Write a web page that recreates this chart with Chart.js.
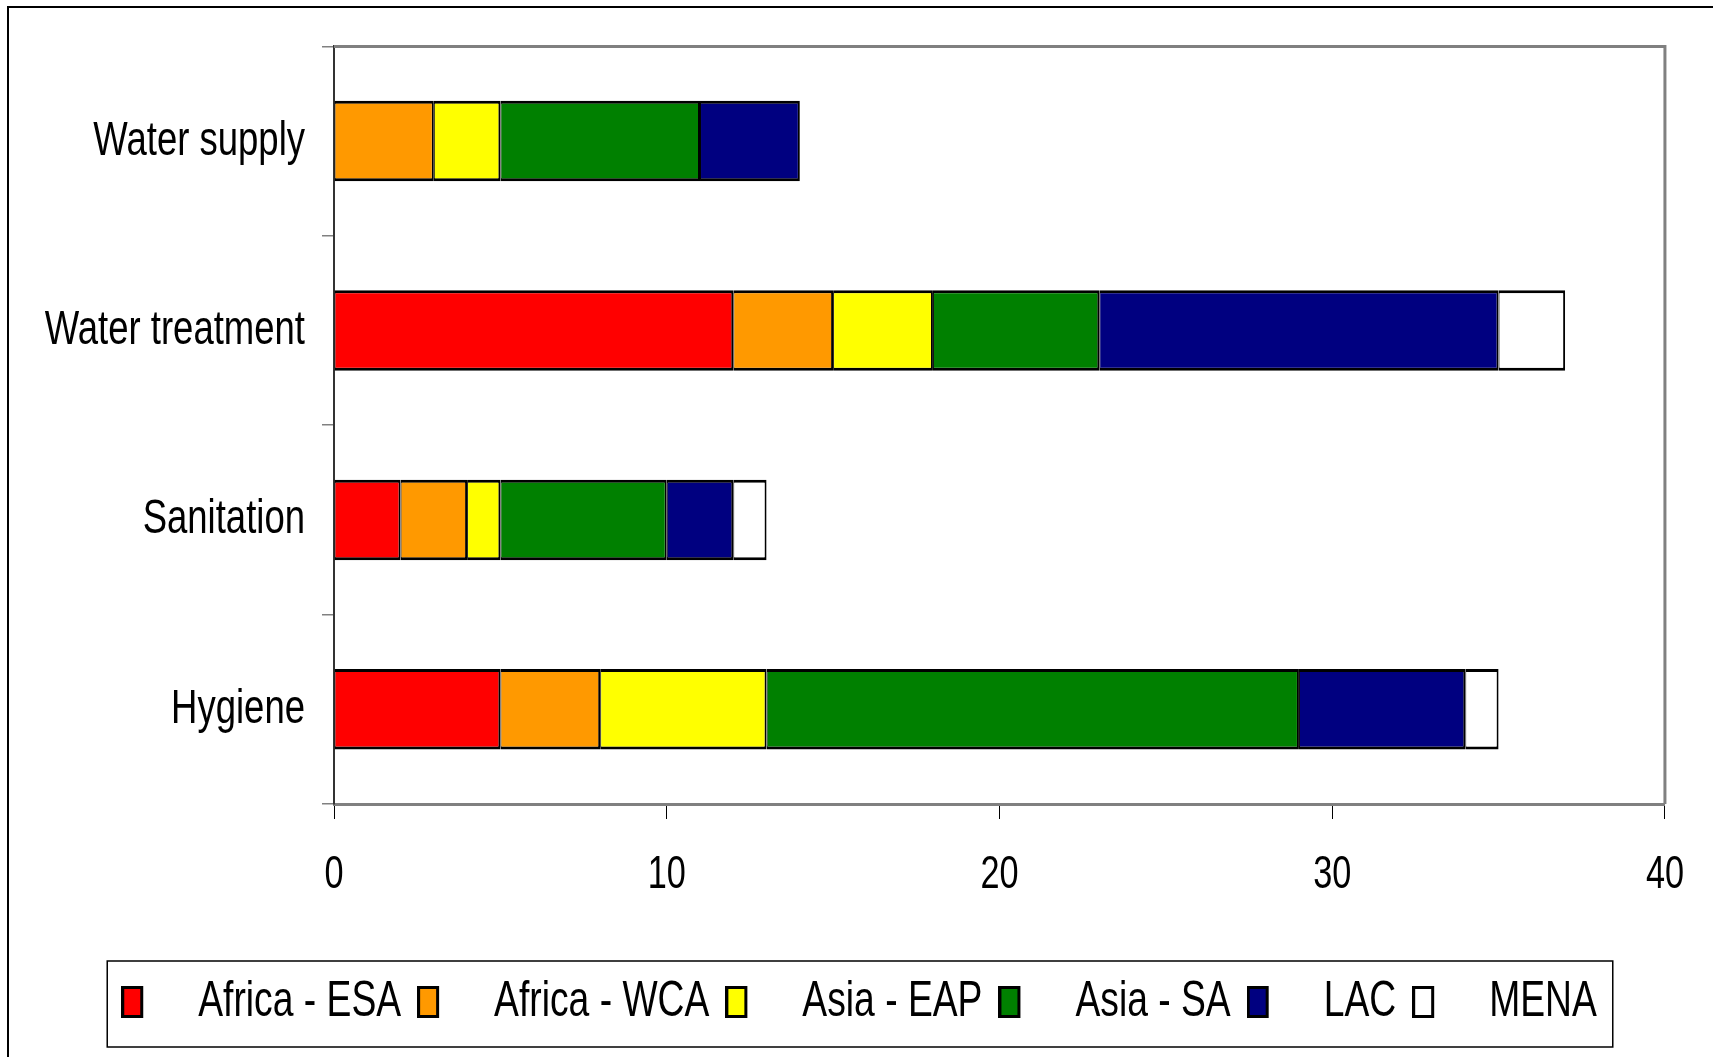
<!DOCTYPE html>
<html>
<head>
<meta charset="utf-8">
<script src="https://cdn.jsdelivr.net/npm/chart.js@4/dist/chart.umd.min.js"></script>
<style>
  html, body { margin: 0; padding: 0; background: #fff; }
  #wrap { width: 1713px; height: 1057px; position: relative; }
</style>
</head>
<body>
<div id="wrap"><canvas id="c" width="1713" height="1057"></canvas></div>
<script>
// Activities (top to bottom) and counts per region
const categories = ['Water supply', 'Water treatment', 'Sanitation', 'Hygiene'];
const regions = ['Africa - ESA', 'Africa - WCA', 'Asia - EAP', 'Asia - SA', 'LAC', 'MENA'];
const africaESA = [0, 12, 2, 5];
const africaWCA = [3, 3, 2, 3];
const asiaEAP   = [2, 3, 1, 5];
const asiaSA    = [6, 5, 5, 16];
const lac       = [3, 12, 2, 5];
const mena      = [0, 2, 1, 1];
const xTicks = [0, 10, 20, 30, 40];

const seriesValues = [africaESA, africaWCA, asiaEAP, asiaSA, lac, mena];
const seriesColors = ['#FF0000', '#FF9900', '#FFFF00', '#008000', '#000080', '#FFFFFF'];

const FONT = "'Liberation Sans', Arial, sans-serif";
const TEXT_SQUEEZE = 0.745;   // narrow lettering: horizontal scale applied to all chart text
const LEGEND_SHIFT = 16;      // legend row sits slightly right of the canvas centre

const canvas = document.getElementById('c');
const ctx2d = canvas.getContext('2d');

// Condensed text: every string the chart writes is squeezed horizontally
// around its anchor point, and measured with the same factor.
(function condenseText(ctx, k) {
  const fill = ctx.fillText.bind(ctx);
  const stroke = ctx.strokeText.bind(ctx);
  const measure = ctx.measureText.bind(ctx);
  const draw = (fn) => function (text, x, y, maxWidth) {
    ctx.save();
    ctx.translate(x, y);
    ctx.scale(k, 1);
    if (maxWidth === undefined) fn(text, 0, 0);
    else fn(text, 0, 0, maxWidth / k);
    ctx.restore();
  };
  ctx.fillText = draw(fill);
  ctx.strokeText = draw(stroke);
  ctx.measureText = function (text) {
    const m = measure(text);
    return {
      width: m.width * k,
      actualBoundingBoxLeft: m.actualBoundingBoxLeft * k,
      actualBoundingBoxRight: m.actualBoundingBoxRight * k,
      actualBoundingBoxAscent: m.actualBoundingBoxAscent,
      actualBoundingBoxDescent: m.actualBoundingBoxDescent,
      fontBoundingBoxAscent: m.fontBoundingBoxAscent,
      fontBoundingBoxDescent: m.fontBoundingBoxDescent
    };
  };
})(ctx2d, TEXT_SQUEEZE);

// Legend marker: small tall rectangle at the left of a wider transparent swatch
const MARK_W = 52;
function markerCanvas(color) {
  const c = document.createElement('canvas');
  c.width = MARK_W; c.height = 32;
  const g = c.getContext('2d');
  g.fillStyle = color;
  g.fillRect(2, 2, 18, 28);
  g.lineWidth = 3;
  g.strokeStyle = '#000';
  g.strokeRect(1.5, 1.5, 19, 29);
  return c;
}

// Page frame, plot border and legend box
const decorations = {
  id: 'decorations',
  afterLayout(chart) {
    const lg = chart.legend;
    if (lg) { lg.left += LEGEND_SHIFT; lg.right += LEGEND_SHIFT; }
  },
  beforeDraw(chart) {
    const ctx = chart.ctx;
    ctx.save();
    ctx.fillStyle = '#fff';
    ctx.fillRect(0, 0, chart.width, chart.height);
    ctx.strokeStyle = '#000';
    ctx.lineWidth = 2;
    ctx.beginPath();
    ctx.moveTo(8, chart.height);
    ctx.lineTo(8, 7);
    ctx.lineTo(chart.width, 7);
    ctx.stroke();
    ctx.restore();
  },
  afterDatasetsDraw(chart) {
    const {ctx, chartArea: a} = chart;
    ctx.save();
    ctx.strokeStyle = '#808080';
    ctx.lineWidth = 3;
    ctx.beginPath();
    ctx.moveTo(a.left, a.top);
    ctx.lineTo(a.right, a.top);
    ctx.lineTo(a.right, a.bottom);
    ctx.stroke();
    ctx.restore();
  },
  afterDraw(chart) {
    const lg = chart.legend;
    if (!lg || !lg.legendHitBoxes || !lg.legendHitBoxes.length) return;
    const hb = lg.legendHitBoxes;
    const left = Math.min(...hb.map(h => h.left)) - 14;
    const right = Math.max(...hb.map(h => h.left + h.width)) + 16;
    const top = hb[0].top - 16;
    const bottom = hb[0].top + hb[0].height + 20;
    const ctx = chart.ctx;
    ctx.save();
    ctx.strokeStyle = '#000';
    ctx.lineWidth = 1.5;
    ctx.strokeRect(left, top, right - left, bottom - top);
    ctx.restore();
  }
};

const datasets = regions.map((name, i) => ({
  label: name,
  data: seriesValues[i],
  backgroundColor: seriesColors[i],
  borderColor: '#000',
  borderWidth: {top: 3, bottom: 3, left: 1, right: 2},
  borderSkipped: false,
  barPercentage: 0.425,
  categoryPercentage: 1.0
}));

new Chart(canvas, {
  type: 'bar',
  data: { labels: categories, datasets },
  plugins: [decorations],
  options: {
    indexAxis: 'y',
    responsive: false,
    devicePixelRatio: 1,
    animation: false,
    layout: { padding: { left: 20, right: 47, top: 43, bottom: 20 } },
    plugins: {
      tooltip: { enabled: false },
      legend: {
        position: 'bottom',
        labels: {
          font: { family: FONT, size: 50 },
          color: '#000',
          padding: 16,
          usePointStyle: true,
          pointStyleWidth: MARK_W,
          boxHeight: 32,
          generateLabels(chart) {
            const items = Chart.defaults.plugins.legend.labels.generateLabels(chart);
            items.forEach((it, i) => { it.pointStyle = markerCanvas(seriesColors[i]); });
            return items;
          }
        }
      }
    },
    scales: {
      x: {
        stacked: true,
        min: 0,
        max: 40,
        afterBuildTicks(scale) { scale.ticks = xTicks.map(v => ({ value: v })); },
        ticks: { font: { family: FONT, size: 46 }, color: '#000', padding: 29 },
        grid: { drawOnChartArea: false, drawTicks: true, tickLength: 15, color: '#000', lineWidth: 1 },
        border: { color: '#808080', width: 3 },
        afterFit(scale) { scale.height = 157; }
      },
      y: {
        stacked: true,
        ticks: { font: { family: FONT, size: 49 }, color: '#000', padding: 17 },
        grid: { drawOnChartArea: false, drawTicks: true, tickLength: 12, color: '#808080', lineWidth: 1.5, offset: true },
        border: { color: '#333', width: 2 },
        afterFit(scale) { scale.width = 314; }
      }
    }
  }
});
</script>
</body>
</html>
